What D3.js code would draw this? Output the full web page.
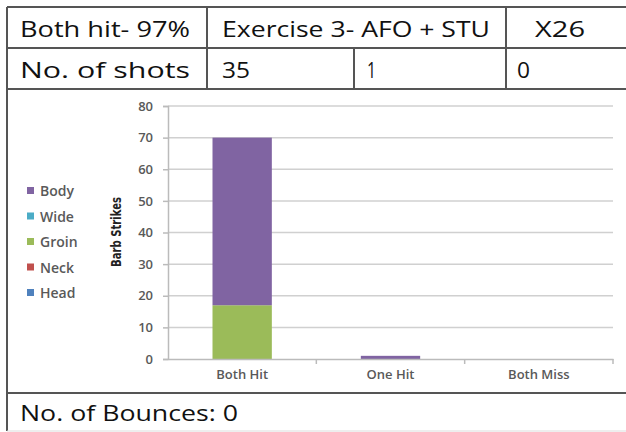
<!DOCTYPE html>
<html><head><meta charset="utf-8">
<script src="https://cdn.jsdelivr.net/npm/d3@7"></script>
<style>body{margin:0;background:#fff}svg{display:block}</style>
</head><body>
<svg id="c" width="626" height="432"></svg>
<script>
const categories = ["Both Hit", "One Hit", "Both Miss"];
const seriesNames = ["Head", "Neck", "Groin", "Wide", "Body"];
const head = [0, 0, 0];
const neck = [0, 0, 0];
const groin = [17, 0, 0];
const wide = [0, 0, 0];
const body = [53, 1, 0];
const yTicks = [0, 10, 20, 30, 40, 50, 60, 70, 80];
const legendOrder = ["Body", "Wide", "Groin", "Neck", "Head"];
const row1 = ["Both hit- 97%", "Exercise 3- AFO + STU", "X26"];
const row2 = ["No. of shots", "35", "1", "0"];
const footer = "No. of Bounces: 0";
const yTitle = "Barb Strikes";

const colors = {Body:"#8064A2", Wide:"#4BACC6", Groin:"#9BBB59", Neck:"#C0504D", Head:"#4F81BD"};
const valuesBy = {Head: head, Neck: neck, Groin: groin, Wide: wide, Body: body};

const svg = d3.select("#c");
const tableFont = "'Open Sans', sans-serif";
const lineCol = "#555";

// table lines
const L = 7, R = 626, T = 7, H1 = 48, H2 = 89, H3 = 393, B = 431;
const lines = [
  [L,T,R,T],[L,H1,R,H1],[L,H2,R,H2],[L,H3,R,H3],
  [L,T,L,B],
  [207,T,207,H2],[506,T,506,H2],[354,H1,354,H2]
];
svg.selectAll("line.tbl").data(lines).join("line").attr("class","tbl")
  .attr("x1",d=>d[0]).attr("y1",d=>d[1]).attr("x2",d=>d[2]).attr("y2",d=>d[3])
  .attr("stroke",lineCol).attr("stroke-width",2);
svg.append("line").attr("x1",L).attr("x2",R).attr("y1",B).attr("y2",B).attr("stroke","#ddd").attr("stroke-width",1);

function tableText(cls, data, xs, ws, yb) {
  svg.selectAll("text."+cls).data(data).join("text").attr("class",cls)
    .attr("x",(d,i)=>xs[i]).attr("y",yb).text(d=>d)
    .attr("textLength",(d,i)=>ws[i]).attr("lengthAdjust","spacingAndGlyphs")
    .attr("font-family",tableFont).attr("font-size",21).attr("fill","#111");
}
tableText("r1", row1, [20, 222, 535], [170, 268, 50], 37);
tableText("r2", row2, [20, 222, 367, 517], [170, 28, 9, 13], 78);
tableText("ft", [footer], [20], [218], 421);

// chart
const x = d3.scaleBand().domain(categories).range([168, 613]).paddingInner(0.6).paddingOuter(0.3);
const y = d3.scaleLinear().domain([0, 80]).range([359, 106]);
const g = svg.append("g");

// gridlines
g.selectAll("line.grid").data(yTicks.filter(v=>v>0)).join("line").attr("class","grid")
  .attr("x1",168).attr("x2",613).attr("y1",d=>y(d)).attr("y2",d=>y(d))
  .attr("stroke","#d0d0d0").attr("stroke-width",1.5);

// stacked bars
const table = categories.map((c,i)=>{const o={cat:c}; seriesNames.forEach(s=>o[s]=valuesBy[s][i]); return o;});
const stacked = d3.stack().keys(seriesNames)(table);
g.selectAll("g.s").data(stacked).join("g").attr("class","s").attr("fill",d=>colors[d.key])
  .selectAll("rect").data(d=>d).join("rect")
  .attr("x",d=>x(d.data.cat)).attr("width",x.bandwidth())
  .attr("y",d=>y(d[1])).attr("height",d=>y(d[0])-y(d[1]));

const labFont = "'Open Sans', sans-serif";
// y axis
const ya = g.append("g").attr("transform","translate(168,0)")
  .call(d3.axisLeft(y).tickValues(yTicks).tickSize(5).tickPadding(10));
ya.select(".domain").attr("stroke","#bbb").attr("stroke-width",1.5);
ya.selectAll(".tick line").attr("stroke","#bbb").attr("stroke-width",1.5);
ya.selectAll(".tick text").attr("font-family",labFont).attr("font-size",13).attr("fill","#595959").attr("font-weight","600");

// x axis
const xBand = d3.scaleBand().domain(categories).range([168,613]);
const xa = g.append("g").attr("transform","translate(0,359)")
  .call(d3.axisBottom(xBand).tickSize(0).tickPadding(11));
xa.select(".domain").attr("stroke","#bbb").attr("stroke-width",1.5);
xa.selectAll(".tick text").attr("font-family",labFont).attr("font-size",13).attr("fill","#595959").attr("font-weight","600");
g.selectAll("line.xt").data(categories).join("line").attr("class","xt")
  .attr("x1",d=>xBand(d)+xBand.bandwidth()).attr("x2",d=>xBand(d)+xBand.bandwidth())
  .attr("y1",359).attr("y2",364).attr("stroke","#bbb").attr("stroke-width",1.5);

// y title
svg.append("text").attr("transform","translate(121,232) rotate(-90)")
  .attr("text-anchor","middle").text(yTitle)
  .attr("textLength",70).attr("lengthAdjust","spacingAndGlyphs")
  .attr("font-family","'Liberation Sans Narrow', 'DejaVu Sans Condensed', sans-serif").attr("font-weight","bold")
  .attr("font-size",14).attr("fill","#222");

// legend
const lg = svg.append("g").selectAll("g").data(legendOrder).join("g")
  .attr("transform",(d,i)=>`translate(27,${191 + i*25.5})`);
lg.append("rect").attr("x",0).attr("y",-4).attr("width",7).attr("height",7).attr("fill",d=>colors[d]);
lg.append("text").attr("x",13).attr("y",5).text(d=>d)
  .attr("font-family",labFont).attr("font-size",14).attr("font-weight","600").attr("fill","#595959");
</script>
</body></html>
